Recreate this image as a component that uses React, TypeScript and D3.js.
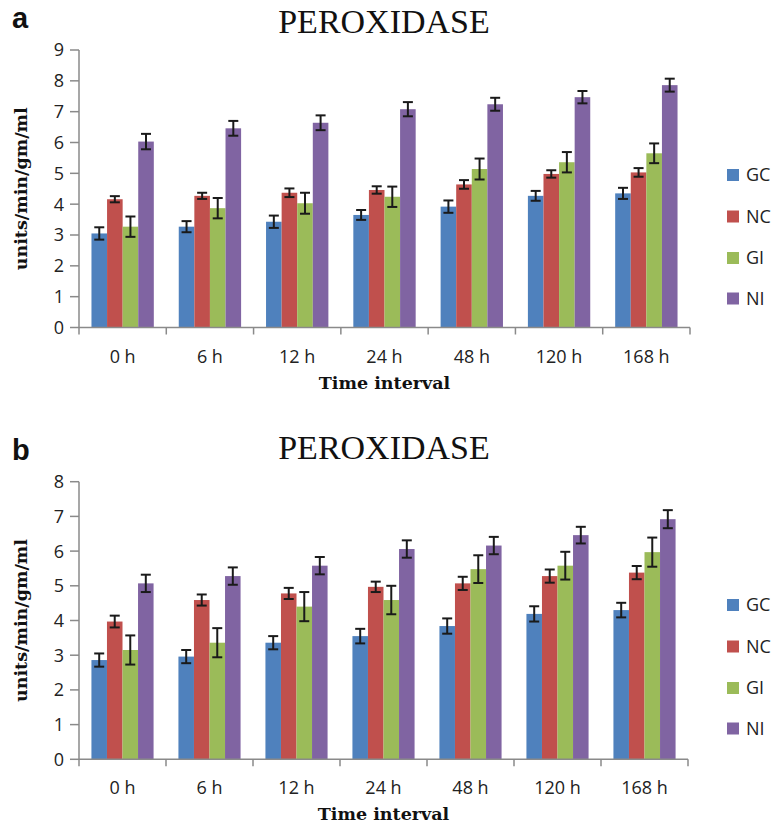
import React from "react";
import * as d3 from "d3";

const categories = ["0 h", "6 h", "12 h", "24 h", "48 h", "120 h", "168 h"];
const seriesNames = ["GC", "NC", "GI", "NI"];
const seriesColors = ["#4F81BD", "#C0504D", "#9BBB59", "#8064A2"];

// Panel a values
const aGC = [3.05, 3.27, 3.43, 3.65, 3.92, 4.27, 4.35];
const aNC = [4.16, 4.27, 4.37, 4.46, 4.64, 4.98, 5.03];
const aGI = [3.27, 3.87, 4.03, 4.24, 5.14, 5.36, 5.65];
const aNI = [6.03, 6.46, 6.64, 7.08, 7.24, 7.47, 7.86];
const aGCErr = [0.2, 0.18, 0.2, 0.16, 0.2, 0.16, 0.18];
const aNCErr = [0.1, 0.1, 0.14, 0.12, 0.14, 0.12, 0.14];
const aGIErr = [0.33, 0.33, 0.34, 0.33, 0.34, 0.33, 0.32];
const aNIErr = [0.25, 0.24, 0.24, 0.23, 0.21, 0.2, 0.21];
const aTicks = [0, 1, 2, 3, 4, 5, 6, 7, 8, 9];

// Panel b values
const bGC = [2.86, 2.96, 3.36, 3.55, 3.84, 4.19, 4.3];
const bNC = [3.97, 4.59, 4.78, 4.97, 5.07, 5.28, 5.38];
const bGI = [3.15, 3.36, 4.4, 4.59, 5.48, 5.58, 5.97];
const bNI = [5.07, 5.28, 5.58, 6.06, 6.16, 6.46, 6.92];
const bGCErr = [0.19, 0.19, 0.19, 0.21, 0.22, 0.22, 0.21];
const bNCErr = [0.17, 0.16, 0.16, 0.15, 0.19, 0.19, 0.19];
const bGIErr = [0.42, 0.42, 0.42, 0.41, 0.4, 0.4, 0.42];
const bNIErr = [0.25, 0.25, 0.25, 0.25, 0.25, 0.24, 0.26];
const bTicks = [0, 1, 2, 3, 4, 5, 6, 7, 8];

const titleText = "PEROXIDASE";
const yTitle = "units/min/gm/ml";
const xTitle = "Time interval";

type PanelProps = {
  label: string;
  values: number[][];
  errors: number[][];
  ticks: number[];
  yMax: number;
  top: number;
  bottom: number;
  x0: number;
  x1: number;
  titleY: number;
  labelY: number;
  legendYs: number[];
};

const AXIS = "#8a8a8a";
const SANS = "'Open Sans', sans-serif";
const SERIF = "'DejaVu Serif', serif";

function Panel(p: PanelProps) {
  const x = d3.scaleBand<string>().domain(categories).range([p.x0, p.x1]).paddingInner(0).paddingOuter(0);
  const xi = d3.scaleBand<string>().domain(seriesNames).range([0, x.bandwidth()]).paddingInner(0).paddingOuter(0.8);
  const y = d3.scaleLinear().domain([0, p.yMax]).range([p.bottom, p.top]);
  const bw = xi.bandwidth();
  const boundaries = categories.map((c) => x(c) as number).concat([p.x1]);
  const plotMidY = (p.top + p.bottom) / 2;
  const plotMidX = (p.x0 + p.x1) / 2;
  return (
    <g>
      <text x={12} y={p.labelY} fontFamily="'Liberation Sans', Arial, sans-serif" fontWeight="bold" fontSize={29} fill="#111">
        {p.label}
      </text>
      <text x={384} y={p.titleY} textAnchor="middle" fontFamily="'Liberation Serif', 'Times New Roman', serif" fontSize={34} fill="#111">
        {titleText}
      </text>
      {seriesNames.map((s, si) =>
        categories.map((c, ci) => {
          const v = p.values[si][ci];
          const bx = (x(c) as number) + (xi(s) as number);
          return <rect key={s + c} x={bx} y={y(v)} width={bw} height={y(0) - y(v)} fill={seriesColors[si]} />;
        })
      )}
      {seriesNames.map((s, si) =>
        categories.map((c, ci) => {
          const v = p.values[si][ci];
          const e = p.errors[si][ci];
          const cx = (x(c) as number) + (xi(s) as number) + bw / 2;
          const hi = y(v + e);
          const lo = y(v - e);
          return (
            <g key={"e" + s + c} stroke="#1a1a1a" strokeWidth={2}>
              <line x1={cx} x2={cx} y1={hi} y2={lo} />
              <line x1={cx - 5} x2={cx + 5} y1={hi} y2={hi} />
              <line x1={cx - 5} x2={cx + 5} y1={lo} y2={lo} />
            </g>
          );
        })
      )}
      <line x1={p.x0} x2={p.x0} y1={y(p.yMax)} y2={y(0)} stroke={AXIS} strokeWidth={1.5} />
      {p.ticks.map((t) => (
        <g key={"yt" + t}>
          <line x1={p.x0 - 9} x2={p.x0} y1={y(t)} y2={y(t)} stroke={AXIS} strokeWidth={1.5} />
          <text x={p.x0 - 15} y={y(t)} dy="0.36em" textAnchor="end" fontFamily={SANS} fontSize={18} fill="#222">
            {t}
          </text>
        </g>
      ))}
      <line x1={p.x0} x2={p.x1} y1={y(0)} y2={y(0)} stroke={AXIS} strokeWidth={1.5} />
      {boundaries.map((bx, i) => (
        <line key={"xt" + i} x1={bx} x2={bx} y1={y(0)} y2={y(0) + 7} stroke={AXIS} strokeWidth={1.5} />
      ))}
      {categories.map((c) => (
        <text key={"xl" + c} x={(x(c) as number) + x.bandwidth() / 2} y={y(0) + 35} textAnchor="middle" fontFamily={SANS} fontSize={18} fill="#222">
          {c}
        </text>
      ))}
      <text x={plotMidX} y={y(0) + 61} textAnchor="middle" fontFamily={SERIF} fontWeight="bold" fontSize={17.5} fill="#111">
        {xTitle}
      </text>
      <text transform={`translate(27,${plotMidY}) rotate(-90)`} textAnchor="middle" fontFamily={SERIF} fontWeight="bold" fontSize={17.5} fill="#111">
        {yTitle}
      </text>
      {seriesNames.map((s, si) => (
        <g key={"lg" + s}>
          <rect x={727} y={p.legendYs[si] - 6} width={12} height={12} fill={seriesColors[si]} />
          <text x={746} y={p.legendYs[si]} dy="0.36em" fontFamily={SANS} fontSize={18} fill="#222">
            {s}
          </text>
        </g>
      ))}
    </g>
  );
}

export default function App() {
  return (
    <svg width={782} height={829} style={{ position: "absolute", left: 0, top: 0, background: "#fff" }}>
      <rect width={782} height={829} fill="#fff" />
      <Panel
        label="a"
        values={[aGC, aNC, aGI, aNI]}
        errors={[aGCErr, aNCErr, aGIErr, aNIErr]}
        ticks={aTicks}
        yMax={9}
        top={50}
        bottom={327.5}
        x0={79}
        x1={690}
        titleY={33}
        labelY={28}
        legendYs={[175, 216.5, 258, 298.5]}
      />
      <Panel
        label="b"
        values={[bGC, bNC, bGI, bNI]}
        errors={[bGCErr, bNCErr, bGIErr, bNIErr]}
        ticks={bTicks}
        yMax={8}
        top={481.7}
        bottom={759.3}
        x0={79}
        x1={688}
        titleY={459}
        labelY={460}
        legendYs={[605, 646.5, 688, 728.5]}
      />
    </svg>
  );
}
